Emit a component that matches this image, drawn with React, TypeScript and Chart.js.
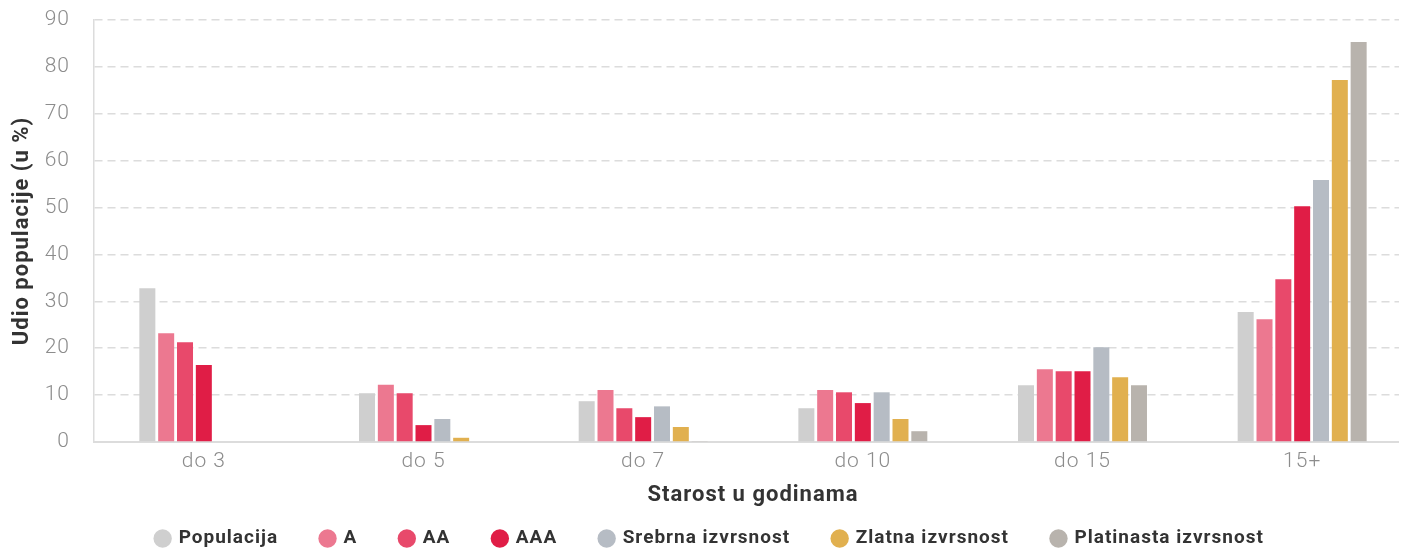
import React, { useEffect, useRef } from "react";
import { Chart, registerables } from "chart.js";

Chart.register(...registerables);

const categories = ["do 3", "do 5", "do 7", "do 10", "do 15", "15+"];
const seriesNames = ["Populacija", "A", "AA", "AAA", "Srebrna izvrsnost", "Zlatna izvrsnost", "Platinasta izvrsnost"];
const populacija = [32.8, 10.4, 8.7, 7.2, 12.1, 27.7];
const seriesA = [23.2, 12.2, 11.1, 11.1, 15.5, 26.2];
const seriesAA = [21.3, 10.4, 7.2, 10.6, 15.1, 34.7];
const seriesAAA = [16.4, 3.6, 5.3, 8.3, 15.1, 50.3];
const srebrna = [0, 4.9, 7.6, 10.6, 20.2, 55.9];
const zlatna = [0, 0.9, 3.2, 4.9, 13.8, 77.2];
const platinasta = [0, 0, 0.2, 2.3, 12.1, 85.3];
const colors = ["#cfcfcf", "#ec7890", "#e8496b", "#e01d46", "#b6bcc4", "#e1b04f", "#b8b3ad"];
const yTicks = [0, 10, 20, 30, 40, 50, 60, 70, 80, 90];

const spacingPlugin = {
  id: "letterSpacing",
  beforeUpdate(chart: any) {
    chart.ctx.letterSpacing = "1px";
  },
  beforeLayout(chart: any) {
    chart.ctx.letterSpacing = "1px";
  },
  beforeDraw(chart: any) {
    chart.ctx.letterSpacing = "1px";
  },
};

export default function App() {
  const ref = useRef<HTMLCanvasElement>(null);
  useEffect(() => {
    document.documentElement.style.overflow = "hidden";
    const values = [populacija, seriesA, seriesAA, seriesAAA, srebrna, zlatna, platinasta];
    const chart = new Chart(ref.current!, {
      type: "bar",
      data: {
        labels: categories,
        datasets: seriesNames.map((name, i) => ({
          label: name,
          data: values[i],
          backgroundColor: colors[i],
          borderWidth: 0,
          categoryPercentage: 0.6,
          barPercentage: 0.85,
        })),
      },
      plugins: [spacingPlugin],
      options: {
        animation: false,
        responsive: true,
        maintainAspectRatio: false,
        layout: { padding: { top: 0, right: 0, left: 0, bottom: 0 } },
        plugins: {
          tooltip: { enabled: false },
          legend: {
            position: "bottom",
            labels: {
              usePointStyle: true,
              pointStyle: "circle",
              boxWidth: 13,
              boxHeight: 13,
              padding: 43,
              color: "#333",
              font: { family: "Roboto", size: 19, weight: "bold" },
            },
          },
        },
        scales: {
          x: {
            afterFit: (scale: any) => {
              scale.height = 44;
            },
            grid: { display: false, drawTicks: false },
            border: { color: "#dcdcdc", width: 2 },
            ticks: { color: "#8c8c8c", padding: 7, font: { family: "Roboto", size: 21, weight: 300 } },
            title: {
              display: true,
              text: "Starost u godinama",
              color: "#333",
              padding: { top: 0, bottom: -23 },
              font: { family: "Roboto", size: 22, weight: "bold" },
            },
          },
          y: {
            min: 0,
            max: 90,
            afterBuildTicks: (axis: any) => {
              axis.ticks = yTicks.map((v) => ({ value: v }));
            },
            afterFit: (scale: any) => {
              scale.width = 86;
              scale.paddingTop = 12;
            },
            grid: { color: "#dcdcdc", lineWidth: 1.5, drawTicks: false, tickLength: 0 },
            border: { display: true, color: "#dcdcdc", width: 1.5, dash: [8, 5] },
            ticks: { color: "#8c8c8c", padding: 24, font: { family: "Roboto", size: 21, weight: 300 } },
            title: {
              display: true,
              text: "Udio populacije (u %)",
              color: "#333",
              padding: { top: 1, bottom: 0 },
              font: { family: "Roboto", size: 22, weight: "bold" },
            },
          },
        },
      } as any,
    });
    return () => chart.destroy();
  }, []);
  return (
    <div style={{ width: 1404, height: 550, position: "relative" }}>
      <canvas ref={ref} />
    </div>
  );
}
